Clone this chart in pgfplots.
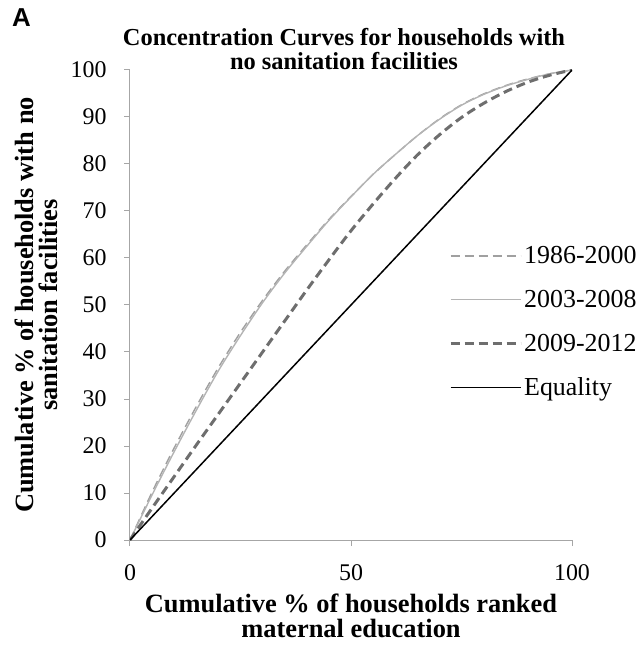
\documentclass[border=0pt]{standalone}
\usepackage{fontspec}
\setmainfont{Liberation Serif}
\newfontfamily\panelfont{Liberation Sans}
\usepackage{pgfplots}
\pgfplotsset{compat=1.18}

\definecolor{axisgray}{HTML}{A6A6A6}
\definecolor{lightdash}{HTML}{A0A0A0}
\definecolor{lightsolid}{HTML}{B4B4B4}
\definecolor{darkdash}{HTML}{6E6E6E}

\begin{document}
\begin{tikzpicture}
\useasboundingbox (-130bp,-110bp) rectangle (513bp,540bp);
\begin{axis}[
  at={(0,0)}, anchor=south west,
  scale only axis, width=442bp, height=470bp,
  xmin=0, xmax=100, ymin=0, ymax=100,
  axis x line*=bottom, axis y line*=left,
  axis line style={draw=axisgray, line width=1bp},
  xtick={0,50,100}, ytick={0,10,...,100},
  tick align=outside, major tick length=6bp,
  tick style={draw=axisgray, line width=1bp},
  /pgf/number format/assume math mode=true,
  tick label style={font=\fontsize{24}{24}\selectfont},
  yticklabel style={xshift=-14bp},
  xticklabel style={yshift=-15bp},
  xlabel={Cumulative \% of households ranked\\maternal education},
  ylabel={Cumulative \% of households with no\\sanitation facilities},
  label style={font=\bfseries\fontsize{26.5}{24.5}\selectfont, align=center, inner sep=0pt},
  xlabel style={at={(axis description cs:0.5,-0.115)}, anchor=north},
  ylabel style={at={(axis description cs:-0.162,0.5)}, anchor=south},
  legend cell align=left,
  legend style={draw=none, fill=none, at={(axis description cs:0.715,0.464)}, anchor=west,
    font=\fontsize{26}{26}\selectfont, row sep=21bp,
    nodes={inner sep=2bp}},
  legend image code/.code={\draw[#1] (0bp,0bp) -- (70bp,0bp);},
]
\addplot[lightdash, line width=1.4bp, dash pattern=on 9bp off 5bp, smooth] coordinates {
(0,0) (5,10.2) (10,19.6) (15,28.4) (20,36.7) (25,44.2) (30,51) (35,57.2) (40,62.8) (45,68.2) (50,73.1)
(55,77.8) (60,82) (65,86) (70,89.6) (75,92.6) (80,94.9) (85,96.7) (90,98.1) (95,99.2) (100,100)
};
\addlegendentry{1986-2000}
\addplot[lightsolid, line width=1.4bp, smooth] coordinates {
(0,0) (5,9.6) (10,18.8) (15,27.6) (20,36) (25,43.5) (30,50.5) (35,56.8) (40,62.5) (45,68) (50,73)
(55,77.8) (60,82) (65,86) (70,89.5) (75,92.5) (80,94.8) (85,96.6) (90,98) (95,99.2) (100,100)
};
\addlegendentry{2003-2008}
\addplot[darkdash, line width=3bp, dash pattern=on 9bp off 5bp, smooth] coordinates {
(0,0) (5,6.8) (10,13.5) (15,20.2) (20,26.8) (25,33.4) (30,40) (35,46.6) (40,53.2) (45,59.6) (50,65.8)
(55,71.5) (60,76.9) (65,81.9) (70,86.2) (75,89.9) (80,92.9) (85,95.4) (90,97.4) (95,98.9) (100,100)
};
\addlegendentry{2009-2012}
\addplot[black, line width=1.5bp] coordinates {(0,0) (100,100)};
\addlegendentry{Equality}
\end{axis}
\node[font=\bfseries\fontsize{24.5}{24.5}\selectfont, anchor=base, inner sep=0pt] at (214bp,494bp) {Concentration Curves for households with};
\node[font=\bfseries\fontsize{24.5}{24.5}\selectfont, anchor=base, inner sep=0pt] at (214bp,470bp) {no sanitation facilities};
\node[font=\panelfont\bfseries\fontsize{26}{26}\selectfont, anchor=base west, inner sep=0pt] at (-118bp,513bp) {A};
\end{tikzpicture}
\end{document}
